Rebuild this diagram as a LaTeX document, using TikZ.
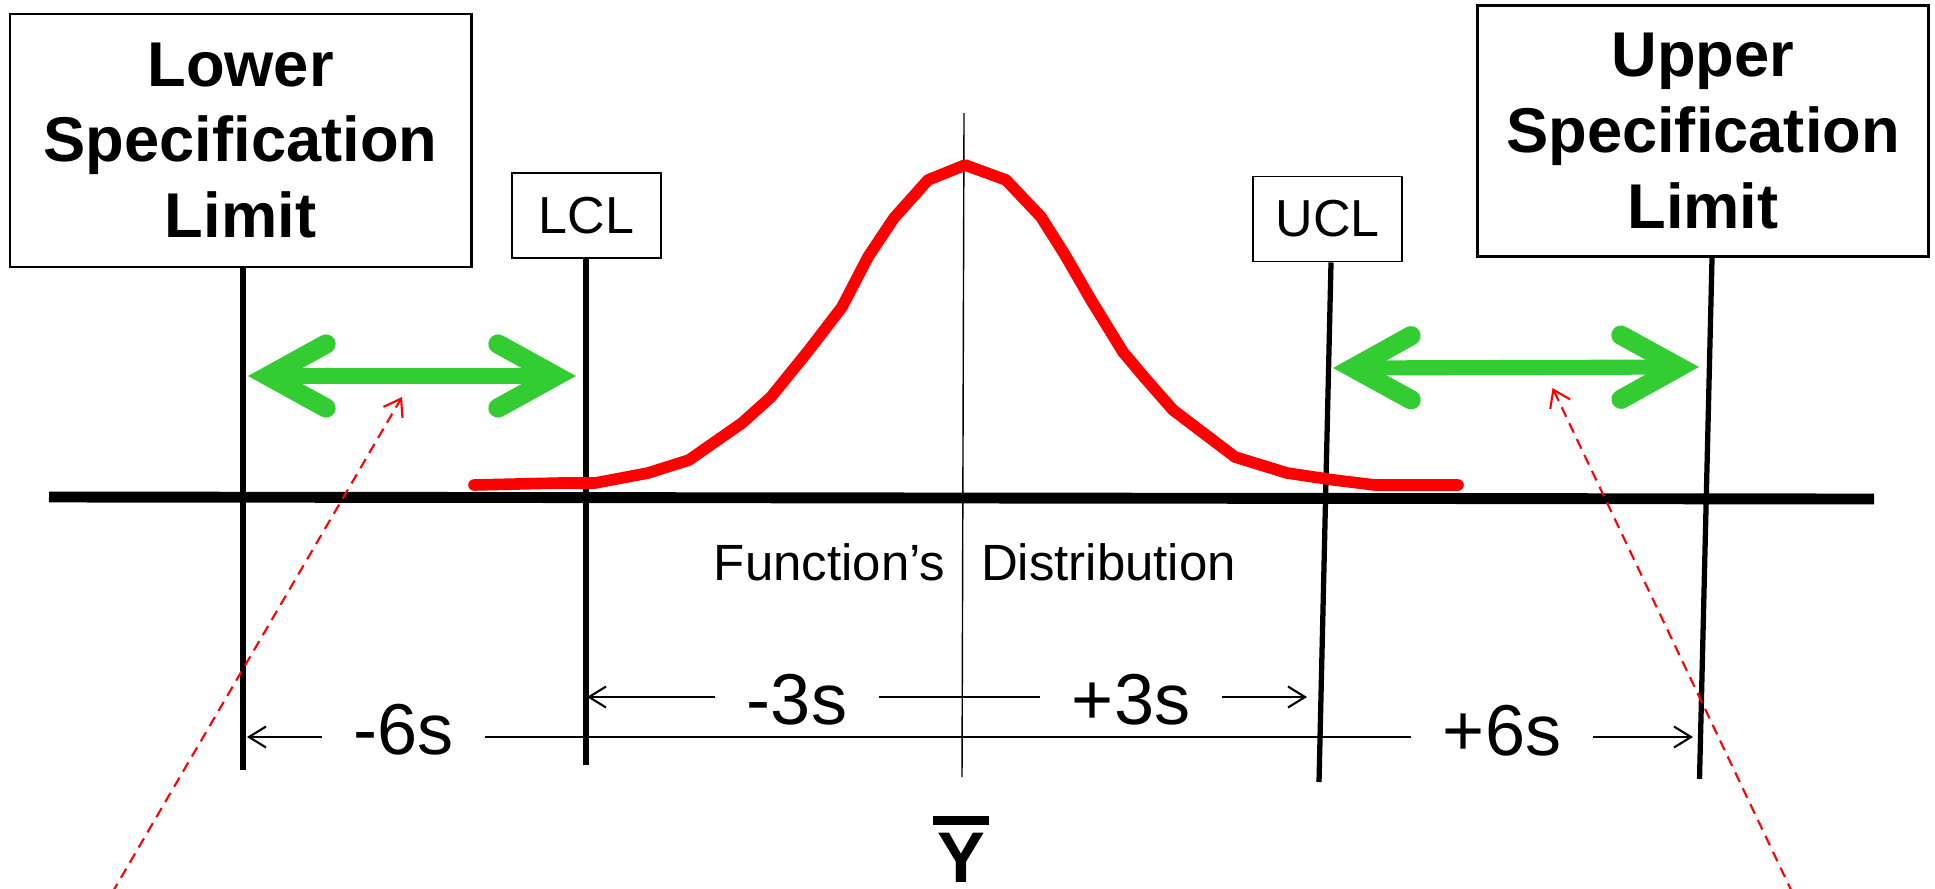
\documentclass[tikz,border=0pt]{standalone}
\usepackage{fontspec}
\setmainfont{Liberation Sans}
\usetikzlibrary{arrows.meta}
\definecolor{zonegreen}{RGB}{51,204,51}

\begin{document}
\begin{tikzpicture}[
    limbox/.style={draw, line width=0.85pt, align=center, font=\bfseries\fontsize{18}{21.5}\selectfont},
    ctlbox/.style={draw, line width=0.55pt, minimum width=1.49cm, minimum height=0.85cm, font=\fontsize{14.8}{17}\selectfont},
    limline/.style={line width=1.5pt},
    dimlabel/.style={font=\fontsize{20.5}{24}\selectfont, inner xsep=3.1mm, inner ysep=0pt},
    dimline/.style={line width=0.6pt},
    dimarrow/.style={dimline, -{Straight Barb[length=1.7mm,width=2.1mm]}},
    zonearrow/.style={draw=zonegreen, line width=4.3pt,
        >={Straight Barb[length=5.8mm,width=6.4mm,line width=5.5pt,line cap=round,line join=miter]}, <->},
    hintarrow/.style={red, line width=0.6pt, dash pattern=on 3pt off 2pt,
        -{Straight Barb[length=1.6mm,width=2.2mm]}}
]
\useasboundingbox (0,0) rectangle (19.35,8.88);

% Limit boxes
\node[limbox, minimum width=4.61cm, minimum height=2.53cm] (lsl) at (2.405,7.475) {Lower\\Specification\\Limit};
\node[limbox, minimum width=4.515cm, minimum height=2.51cm] (usl) at (17.03,7.57) {Upper\\Specification\\Limit};
\node[ctlbox] (lcl) at (5.865,6.725) {LCL};
\node[ctlbox] (ucl) at (13.275,6.69) {UCL};

% Feet of the limit lines
\coordinate (lslfoot) at (2.43,1.18);
\coordinate (lclfoot) at (5.86,1.23);
\coordinate (uclfoot) at (13.19,1.06);
\coordinate (uslfoot) at (16.995,1.09);
\coordinate (ctop) at (9.64,7.75);
\coordinate (cbot) at (9.62,1.11);

\draw[limline] (lslfoot |- lsl.south) -- (lslfoot);
\draw[limline] (lclfoot |- lcl.south) -- (lclfoot);
\draw[limline] ([xshift=0.35mm]ucl.south) -- (uclfoot);
\draw[limline] ([xshift=0.9mm]usl.south) -- (uslfoot);
\draw[line width=0.4pt] (ctop) -- (cbot);

% Axis
\coordinate (axl) at (0.49,3.91);
\coordinate (axr) at (18.74,3.89);
\draw[line width=3.1pt] (axl) -- (axr);

% Distribution
\draw[red, line width=3.3pt, line cap=round, line join=round] plot coordinates {
    (4.74,4.03) (5.60,4.05) (5.95,4.05) (6.48,4.15) (6.89,4.28) (7.42,4.65)
    (7.71,4.91) (8.09,5.38) (8.42,5.81) (8.68,6.31) (8.94,6.70) (9.28,7.08)
    (9.65,7.23) (10.06,7.08) (10.41,6.71) (10.65,6.33) (10.91,5.88) (11.23,5.36)
    (11.44,5.11) (11.73,4.78) (12.35,4.31) (12.87,4.15) (13.34,4.08) (13.75,4.03)
    (14.58,4.03)};

\node[anchor=base, font=\fontsize{14.5}{17}\selectfont] (dist) at (9.75,3.08) {Function's\hspace{10.2pt}Distribution};

% Green zones
\coordinate (lzone1) at (2.48,5.12);
\coordinate (lzone2) at (5.76,5.12);
\coordinate (uzone1) at (13.33,5.20);
\coordinate (uzone2) at (16.99,5.21);
\draw[zonearrow] (lzone1) -- (lzone2);
\draw[zonearrow] (uzone1) -- (uzone2);

% Pointers
\coordinate (lhint) at (1.12,-0.05);
\coordinate (lhinttip) at (4.02,4.91);
\coordinate (uhint) at (17.925,-0.05);
\coordinate (uhinttip) at (15.525,5.00);
\draw[hintarrow] (lhint) -- (lhinttip);
\draw[hintarrow] (uhint) -- (uhinttip);

% Sigma spans
\node[dimlabel] (m3) at (7.97,1.88) {-3s};
\node[dimlabel] (p3) at (11.31,1.88) {+3s};
\node[dimlabel] (m6) at (4.035,1.58) {-6s};
\node[dimlabel] (p6) at (15.02,1.57) {+6s};
\coordinate (lclrow) at (5.87,1.91);
\coordinate (uclrow) at (13.07,1.91);
\coordinate (lslrow) at (2.47,1.51);
\coordinate (uslrow) at (16.93,1.51);

\draw[dimarrow] (m3.west |- lclrow) -- (lclrow);
\draw[dimline] (m3.east |- lclrow) -- (p3.west |- lclrow);
\draw[dimarrow] (p3.east |- uclrow) -- (uclrow);
\draw[dimarrow] (m6.west |- lslrow) -- (lslrow);
\draw[dimline] (m6.east |- lslrow) -- (p6.west |- lslrow);
\draw[dimarrow] (p6.east |- uslrow) -- (uslrow);

% Mean
\node[anchor=base, inner sep=0pt, font=\bfseries\fontsize{20.4}{24}\selectfont] (ybar) at (9.61,0.06) {Y};
\draw[line width=2.6pt] ([shift={(-0.28,0.115)}]ybar.north) -- ([shift={(0.28,0.115)}]ybar.north);
\end{tikzpicture}
\end{document}
